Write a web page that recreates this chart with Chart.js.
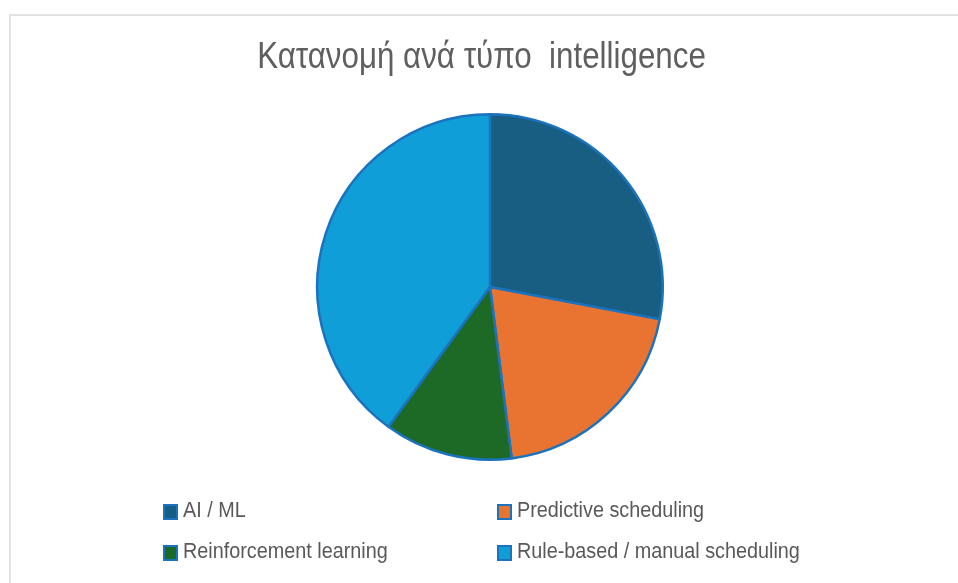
<!DOCTYPE html>
<html>
<head>
<meta charset="utf-8">
<script src="https://cdn.jsdelivr.net/npm/chart.js@4"></script>
<style>
  html, body { margin: 0; padding: 0; background: #fff; width: 958px; height: 583px; overflow: hidden; }
  #frame { position: absolute; left: 9px; top: 14px; width: 960px; height: 580px; border-left: 2px solid #e2e2e2; border-top: 2px solid #e2e2e2; box-sizing: border-box; }
  #wrap { position: absolute; left: 0; top: 0; width: 958px; height: 583px; }
  #title { position: absolute; left: 0; width: 963px; top: 38px; line-height: 36px; text-align: center; font-family: "Liberation Sans", Arial, sans-serif; font-size: 36px; color: #5f5f5f; white-space: pre; transform: scaleX(0.87); transform-origin: 481.5px 0; }
  .legtxt { position: absolute; font-family: "Liberation Sans", Arial, sans-serif; font-size: 22px; line-height: 22px; color: #595959; white-space: nowrap; transform: scaleX(0.9); transform-origin: 0 0; }
  .sw { position: absolute; width: 11px; height: 12px; border: 2px solid #1b72bd; box-sizing: content-box; }
</style>
</head>
<body>
<div id="frame"></div>
<div id="wrap"><canvas id="c" width="958" height="583"></canvas></div>
<div id="title"></div>
<div id="legend"></div>
<script>
const titleText = "Κατανομή ανά τύπο  intelligence";
const categories = ["AI / ML", "Predictive scheduling", "Reinforcement learning", "Rule-based / manual scheduling"];
const values = [28, 20, 12, 40];
const colors = ["#185e83", "#e97431", "#1c6a25", "#109ed8"];
const borderColor = "#1b72bd";

document.getElementById('title').textContent = titleText;

const chart = new Chart(document.getElementById('c'), {
  type: 'pie',
  data: {
    labels: categories,
    datasets: [{
      data: values,
      backgroundColor: colors,
      borderColor: borderColor,
      borderWidth: 2.5
    }]
  },
  options: {
    responsive: false,
    animation: false,
    layout: { padding: { top: 113, bottom: 122, left: 316, right: 294 } },
    plugins: {
      legend: { display: false },
      title: { display: false },
      tooltip: { enabled: false }
    }
  }
});

// HTML legend built from chart data (2 columns)
const legendCols = [163, 497];
const legendRows = [504, 545];
const leg = document.getElementById('legend');
chart.data.labels.forEach((lab, i) => {
  const x = legendCols[i % 2], y = legendRows[Math.floor(i / 2)];
  const sw = document.createElement('div');
  sw.className = 'sw';
  sw.style.left = x + 'px';
  sw.style.top = y + 'px';
  sw.style.background = chart.data.datasets[0].backgroundColor[i];
  const t = document.createElement('div');
  t.className = 'legtxt';
  t.textContent = lab;
  t.style.left = (x + 20) + 'px';
  t.style.top = (y - 5) + 'px';
  leg.appendChild(sw); leg.appendChild(t);
});
</script>
</body>
</html>
